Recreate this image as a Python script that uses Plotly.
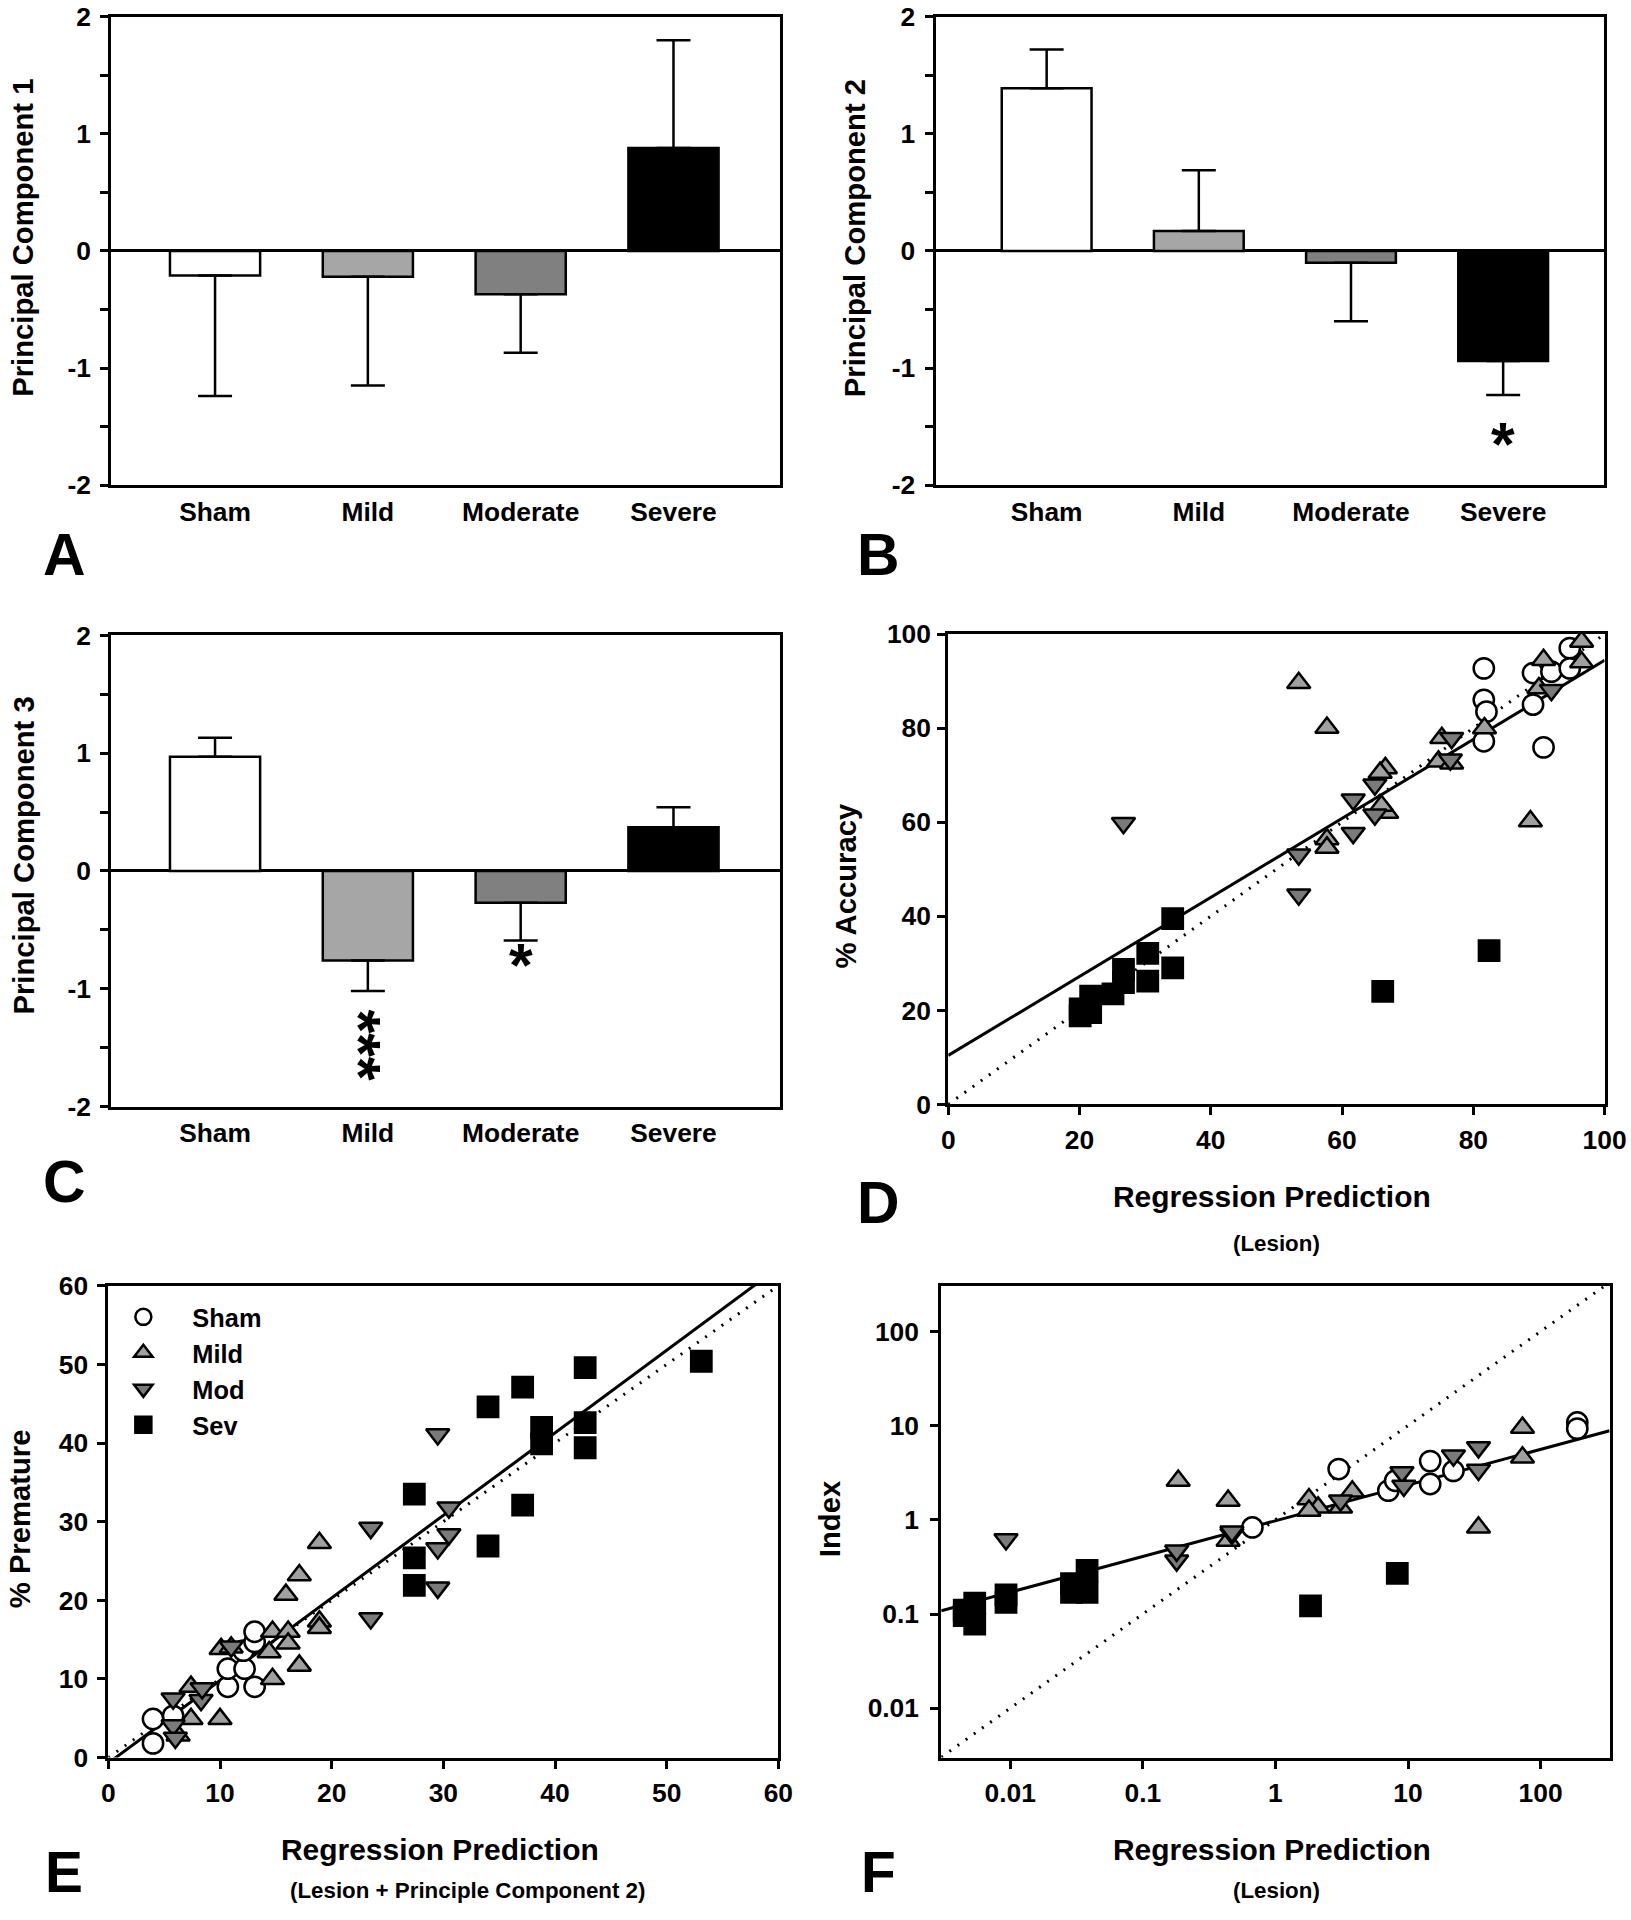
import plotly.graph_objects as go
import numpy as np

FONT = "Liberation Sans, Arial, sans-serif"

# ---------------- data ----------------
groups = ["Sham", "Mild", "Moderate", "Severe"]
bar_colors = ["#ffffff", "#a6a6a6", "#808080", "#000000"]

pc1_mean = [-0.21, -0.22, -0.37, 0.88]
pc1_err = [1.03, 0.93, 0.50, 0.92]
pc2_mean = [1.39, 0.17, -0.10, -0.94]
pc2_err = [0.33, 0.52, 0.50, 0.29]
pc3_mean = [0.97, -0.76, -0.27, 0.37]
pc3_err = [0.16, 0.26, 0.32, 0.17]

bar_ticks = [-2, -1, 0, 1, 2]
bar_ticktext = ["-2", "-1", "0", "1", "2"]

# significance marks: (group, y position, text)
starsB = [("Severe", -1.53, "*")]
starsC = [("Mild", -1.48, "***"), ("Moderate", -0.68, "*")]

# Panel D: % accuracy vs regression prediction (lesion)
D_sham_x = [81.6, 81.6, 82.0, 81.6, 89.1, 89.1, 91.9, 94.7, 94.7, 90.7]
D_sham_y = [92.7, 86.0, 83.5, 77.2, 91.7, 85.0, 92.0, 97.0, 92.7, 75.9]
D_mild_x = [53.4, 57.7, 57.7, 57.7, 66.6, 65.8, 66.8, 66.0, 75.2, 74.7, 76.7, 81.7, 88.7, 90.7, 96.5, 96.5, 90.0]
D_mild_y = [89.6, 80.1, 56.4, 54.6, 71.5, 70.5, 62.0, 63.5, 77.9, 72.9, 72.5, 80.0, 60.2, 94.5, 98.4, 94.0, 88.5]
D_mod_x = [26.7, 53.4, 53.4, 61.7, 61.7, 65.0, 65.0, 76.7, 76.5, 91.9]
D_mod_y = [59.8, 44.6, 53.1, 57.7, 64.8, 68.0, 61.6, 77.9, 73.3, 88.1]
D_sev_x = [34.2, 30.4, 34.2, 30.4, 26.7, 26.7, 25.1, 21.7, 21.7, 20.1, 20.1, 82.4, 66.2]
D_sev_y = [39.5, 32.1, 29.0, 26.2, 28.7, 25.9, 23.5, 23.0, 19.5, 18.8, 20.3, 32.7, 24.0]
D_fit = (0.84, 10.4)  # slope, intercept

# Panel E: % premature vs regression prediction (lesion + PC2)
E_sham_x = [4.0, 4.0, 5.8, 10.7, 13.1, 10.7, 12.2, 12.1, 13.1, 13.1]
E_sham_y = [1.8, 4.9, 5.3, 9.0, 9.0, 11.3, 11.3, 13.6, 14.7, 16.0]
E_mild_x = [6.25, 7.4, 10.0, 7.4, 10.1, 14.4, 14.7, 14.7, 16.1, 16.1, 17.1, 15.9, 17.1, 18.9, 18.9, 18.9, 11.0]
E_mild_y = [2.8, 4.9, 4.9, 9.0, 13.8, 13.4, 10.0, 16.0, 16.0, 14.5, 11.7, 20.7, 23.2, 27.3, 17.3, 16.5, 14.0]
E_mod_x = [5.8, 8.3, 8.4, 5.8, 6.0, 11.0, 23.5, 23.5, 29.5, 29.5, 29.5, 30.5, 30.5]
E_mod_y = [7.5, 7.3, 8.8, 4.1, 2.5, 14.1, 29.2, 17.7, 41.1, 26.6, 21.6, 31.8, 28.4]
E_sev_x = [27.4, 27.4, 27.4, 34.0, 37.1, 42.7, 38.8, 38.8, 42.7, 42.7, 37.1, 34.0, 53.1]
E_sev_y = [33.5, 25.4, 21.9, 44.6, 47.1, 49.6, 42.0, 39.9, 42.6, 39.4, 32.1, 26.9, 50.4]
E_fit = (1.05, -0.7)

# Panel F: index vs regression prediction (lesion), log-log
F_sham_x = [0.67, 3.0, 7.1, 8.0, 14.7, 14.7, 22, 189, 189]
F_sham_y = [0.83, 3.46, 2.04, 2.6, 4.2, 2.4, 3.3, 10.8, 9.3]
F_mild_x = [0.185, 0.44, 0.44, 1.79, 2.1, 1.79, 3.1, 3.8, 34, 73, 73]
F_mild_y = [2.6, 1.6, 0.6, 1.66, 1.35, 1.25, 1.35, 2.0, 0.83, 9.5, 4.6]
F_mod_x = [0.0093, 0.18, 0.18, 0.47, 0.47, 3.1, 9.0, 9.3, 22, 34, 34]
F_mod_y = [0.62, 0.37, 0.47, 0.71, 0.75, 1.6, 3.2, 2.3, 4.8, 5.9, 3.4]
F_sev_x = [0.0045, 0.0054, 0.0054, 0.0045, 0.0093, 0.0093, 0.029, 0.038, 0.038, 0.029, 1.84, 8.3]
F_sev_y = [0.096, 0.13, 0.078, 0.11, 0.133, 0.16, 0.21, 0.29, 0.17, 0.17, 0.122, 0.27]
F_fit = (0.379, -0.01)  # log10 slope, log10 intercept

legend_names = ["Sham", "Mild", "Mod", "Sev"]
logticks = [0.01, 0.1, 1, 10, 100]
logtext = ["0.01", "0.1", "1", "10", "100"]

# ---------------- page geometry ----------------
W, H = 1660, 1945
K = 0.985          # observed capture scale
OX, OY = 3.4, 13.7  # observed capture offset (px)
FS = 1.0 / K

def px(rx):
    return ((rx - OX) / K) / W

def py(ry):
    return 1 - ((ry - OY) / K) / H

def dx(r0, r1):
    return [px(r0), min(px(r1), 0.9992)]

def dy(rtop, rbot):
    return [py(rbot), min(py(rtop), 0.9992)]

# ---------------- styles ----------------
marker_styles = [
    dict(symbol="circle", color="#ffffff"),
    dict(symbol="triangle-up", color="#a0a0a0"),
    dict(symbol="triangle-down", color="#7a7a7a"),
    dict(symbol="square", color="#000000"),
]
MSIZE = 20 * FS

fig = go.Figure()

def add_bars(means, errs, xa, ya):
    up = [e if m > 0 else 0 for m, e in zip(means, errs)]
    dn = [e if m < 0 else 0 for m, e in zip(means, errs)]
    fig.add_trace(go.Bar(
        x=groups, y=means, width=0.59, xaxis=xa, yaxis=ya,
        marker=dict(color=bar_colors, line=dict(color="black", width=2.5)),
        error_y=dict(type="data", symmetric=False, array=up, arrayminus=dn,
                     color="black", thickness=2.5, width=17),
        showlegend=False, hoverinfo="skip"))

add_bars(pc1_mean, pc1_err, "x", "y")
add_bars(pc2_mean, pc2_err, "x2", "y2")
add_bars(pc3_mean, pc3_err, "x3", "y3")

def add_scatter(sets, xa, ya, legend):
    for i, (xs, ys) in enumerate(sets):
        st = marker_styles[i]
        fig.add_trace(go.Scatter(
            x=xs, y=ys, mode="markers", xaxis=xa, yaxis=ya,
            name=legend_names[i], showlegend=legend,
            marker=dict(symbol=st["symbol"], color=st["color"], size=MSIZE,
                        line=dict(color="black", width=2.5))))

def add_lines(xlo, xhi, fit, xa, ya, log=False):
    xs = np.array([xlo, xhi])
    if log:
        ys = 10 ** (fit[0] * np.log10(xs) + fit[1])
    else:
        ys = fit[0] * xs + fit[1]
    fig.add_trace(go.Scatter(x=xs, y=xs, mode="lines", xaxis=xa, yaxis=ya,
                             line=dict(color="black", width=3, dash="2px,8px"),
                             showlegend=False, hoverinfo="skip"))
    fig.add_trace(go.Scatter(x=xs, y=ys, mode="lines", xaxis=xa, yaxis=ya,
                             line=dict(color="black", width=3),
                             showlegend=False, hoverinfo="skip"))

add_lines(0, 100, D_fit, "x4", "y4")
add_scatter([(D_sham_x, D_sham_y), (D_mild_x, D_mild_y), (D_mod_x, D_mod_y), (D_sev_x, D_sev_y)], "x4", "y4", False)
add_lines(0, 60, E_fit, "x5", "y5")
add_scatter([(E_sham_x, E_sham_y), (E_mild_x, E_mild_y), (E_mod_x, E_mod_y), (E_sev_x, E_sev_y)], "x5", "y5", True)
add_lines(10 ** -2.52, 10 ** 2.52, F_fit, "x6", "y6", log=True)
add_scatter([(F_sham_x, F_sham_y), (F_mild_x, F_mild_y), (F_mod_x, F_mod_y), (F_sev_x, F_sev_y)], "x6", "y6", False)

# ---------------- axes ----------------
tickfont = dict(family=FONT, size=26 * FS, color="black", weight="bold")
base = dict(showline=True, linewidth=3, linecolor="black", mirror=True, showgrid=False,
            zeroline=False, ticks="outside", ticklen=8, tickwidth=2.5, tickcolor="black",
            tickfont=tickfont)

def cat_x(domain, anchor, rng):
    d = dict(base)
    d.update(domain=domain, anchor=anchor, type="category", range=rng, ticks="",
             ticklabelstandoff=1)
    return d

def bar_y(domain, anchor):
    d = dict(base)
    d.update(domain=domain, anchor=anchor, range=[-2, 2], tickvals=bar_ticks, ticktext=bar_ticktext,
             zeroline=True, zerolinecolor="black", zerolinewidth=3,
             minor=dict(dtick=0.5, tick0=0, ticks="outside", ticklen=8, tickwidth=2.5, tickcolor="black"),
             ticklabelstandoff=4)
    return d

yA = dy(15.5, 484)
yC = dy(634.3, 1105.7)
fig.update_layout(
    xaxis=cat_x(dx(107.8, 778.8), "y", [-0.68, 3.70]),
    yaxis=bar_y(yA, "x"),
    xaxis2=cat_x(dx(934.3, 1604), "y2", [-0.73, 3.66]),
    yaxis2=bar_y(yA, "x2"),
    xaxis3=cat_x(dx(107.8, 778.8), "y3", [-0.68, 3.70]),
    yaxis3=bar_y(yC, "x3"),
)

def lin_ax(domain, anchor, rng, dtick, standoff):
    d = dict(base)
    d.update(domain=domain, anchor=anchor, range=rng, dtick=dtick, tick0=0, ticklabelstandoff=standoff)
    return d

fig.update_layout(
    xaxis4=lin_ax(dx(947, 1605), "y4", [0, 100], 20, 2),
    yaxis4=lin_ax(dy(633, 1103.5), "x4", [0, 100], 20, 1),
    xaxis5=lin_ax(dx(105, 776.7), "y5", [0, 60], 10, 2),
    yaxis5=lin_ax(dy(1285, 1757), "x5", [0, 60], 10, 4),
)
ax6x = dict(base); ax6x.update(domain=dx(940, 1610), anchor="y6", type="log", range=[-2.52, 2.52],
                               tickvals=logticks, ticktext=logtext, ticklabelstandoff=2)
ax6y = dict(base); ax6y.update(domain=dy(1285, 1757), anchor="x6", type="log", range=[-2.524, 2.485],
                               tickvals=logticks, ticktext=logtext, ticklabelstandoff=6)
fig.update_layout(xaxis6=ax6x, yaxis6=ax6y)

# ---------------- annotations ----------------
ann = []
def txt(rx, ry, s, size, angle=0):
    ann.append(dict(x=px(rx), y=py(ry), xref="paper", yref="paper", text=s, showarrow=False,
                    textangle=angle, xanchor="center", yanchor="middle",
                    font=dict(family=FONT, size=size * FS, color="black", weight="bold")))

TY, TX, TS2 = 28.8, 29.5, 22
txt(20, 237, "Principal Component 1", TY, -90)
txt(853.5, 237, "Principal Component 2", TY, -90)
txt(20, 855, "Principal Component 3", TY, -90)
txt(844, 885, "% Accuracy", TY, -90)
txt(16, 1518, "% Premature", TY, -90)
txt(828, 1518, "Index", TY, -90)

txt(1272, 1196, "Regression Prediction", TX)
txt(1276, 1243, "(Lesion)", TS2)
txt(437, 1849, "Regression Prediction", TX)
txt(465, 1890, "(Lesion + Principle Component 2)", TS2)
txt(1272, 1849, "Regression Prediction", TX)
txt(1276, 1890, "(Lesion)", TS2)

for letter, rx, ry, sz in [("A", 61, 553, 58), ("B", 877, 553, 58), ("C", 61, 1181, 58),
                           ("D", 877, 1202, 58), ("E", 61, 1872, 56), ("F", 877, 1872, 56)]:
    txt(rx, ry, letter, sz)

SFS = 60 * FS
def stars(marks, xr, yr):
    for c, v, s in marks:
        if len(s) > 1:
            # vertical stack of asterisks, one text rotated to read downward
            ann.append(dict(x=c, y=v, xref=xr, yref=yr, text=s, showarrow=False,
                            textangle=90, xshift=-9,
                            font=dict(family=FONT, size=SFS, color="black", weight="bold")))
        else:
            ann.append(dict(x=c, y=v, xref=xr, yref=yr, text=s, showarrow=False,
                            yshift=-14,
                            font=dict(family=FONT, size=SFS, color="black", weight="bold")))
stars(starsB, "x2", "y2")
stars(starsC, "x3", "y3")

fig.update_layout(
    annotations=ann,
    width=W, height=H,
    margin=dict(l=0, r=0, t=0, b=0),
    paper_bgcolor="white", plot_bgcolor="white",
    legend=dict(x=88.9 / W, y=1 - 1298.9 / H, xanchor="left", yanchor="top",
                bgcolor="rgba(0,0,0,0)", itemwidth=88, tracegroupgap=0,
                font=dict(family=FONT, size=25 * FS, color="black", weight="bold")),
)

post = (
    "document.documentElement.style.margin='0';document.documentElement.style.padding='0';"
    "document.documentElement.style.overflow='hidden';"
    "document.body.style.margin='0';document.body.style.padding='0';document.body.style.overflow='hidden';"
    "var gd=document.querySelector('.plotly-graph-div');"
    "gd.style.position='fixed';gd.style.left='0px';gd.style.top='0px';"
)
fig.write_html("out.html", config={"displayModeBar": False}, post_script=post)
